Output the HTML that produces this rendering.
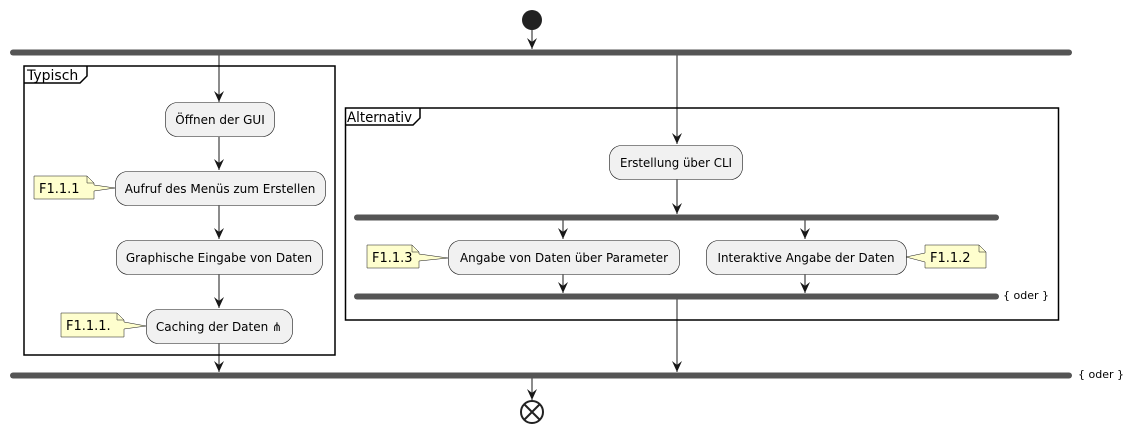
<!DOCTYPE html>
<html><head><meta charset="utf-8"><style>
html,body{margin:0;padding:0;background:#fff;}
svg{display:block;font-family:"DejaVu Sans","Liberation Sans",sans-serif;}
</style></head><body>
<svg width="1133" height="431" viewBox="0 0 1133 431" xmlns="http://www.w3.org/2000/svg">
<defs>
<marker id="a" viewBox="0 0 12 12" refX="11" refY="6" markerWidth="12" markerHeight="12" markerUnits="userSpaceOnUse" orient="auto">
<path d="M0,1 L11,6 L0,11 L4,6 Z" fill="#181818"/></marker>
</defs>
<g stroke="#181818" stroke-width="1" fill="none">
<line x1="532" y1="30" x2="532" y2="49" marker-end="url(#a)"/>
<line x1="219" y1="55" x2="219" y2="102" marker-end="url(#a)"/>
<line x1="219" y1="137" x2="219" y2="170" marker-end="url(#a)"/>
<line x1="219" y1="205" x2="219" y2="239" marker-end="url(#a)"/>
<line x1="219" y1="274" x2="219" y2="308" marker-end="url(#a)"/>
<line x1="219" y1="343" x2="219" y2="372" marker-end="url(#a)"/>
<line x1="677" y1="55" x2="677" y2="144" marker-end="url(#a)"/>
<line x1="677" y1="179" x2="677" y2="214" marker-end="url(#a)"/>
<line x1="563" y1="220" x2="563" y2="239" marker-end="url(#a)"/>
<line x1="805" y1="220" x2="805" y2="239" marker-end="url(#a)"/>
<line x1="563" y1="274" x2="563" y2="293" marker-end="url(#a)"/>
<line x1="805" y1="274" x2="805" y2="293" marker-end="url(#a)"/>
<line x1="677" y1="299" x2="677" y2="372" marker-end="url(#a)"/>
<line x1="532" y1="378" x2="532" y2="400" marker-end="url(#a)"/>
</g>
<circle cx="532" cy="20" r="10" fill="#222"/>
<rect x="10" y="49.5" width="1062" height="6" rx="3" fill="#555"/>
<rect x="10" y="372.5" width="1062" height="6" rx="3" fill="#555"/>
<rect x="354" y="214.5" width="645" height="6" rx="3" fill="#555"/>
<rect x="354" y="293.5" width="645" height="6" rx="3" fill="#555"/>
<!-- frames -->
<g stroke="#000" stroke-width="1.5" fill="none">
<rect x="24" y="66" width="311" height="289"/>
<path d="M24,83 H80 L87,76 V66"/>
<rect x="345.5" y="108" width="713" height="212"/>
<path d="M345.5,125 H413 L420,118 V108"/>
</g>
<g font-size="14" fill="#000">
<text x="27" y="80">Typisch</text>
<text x="347" y="122" textLength="65" lengthAdjust="spacingAndGlyphs">Alternativ</text>
</g>
<!-- boxes -->
<g fill="#f1f1f1" stroke="#181818" stroke-width="0.6">
<rect x="165.5" y="102.5" width="109" height="34" rx="12"/>
<rect x="115.5" y="171.5" width="210" height="34" rx="12"/>
<rect x="116.5" y="240.5" width="206" height="34" rx="12"/>
<rect x="146.5" y="309.5" width="146" height="34" rx="12"/>
<rect x="609.5" y="145.5" width="133" height="34" rx="12"/>
<rect x="448.5" y="240.5" width="231" height="34" rx="12"/>
<rect x="706.5" y="240.5" width="200" height="34" rx="12"/>
</g>
<g font-size="12" fill="#000" text-anchor="middle">
<text x="220" y="124">Öffnen der GUI</text>
<text x="220" y="193">Aufruf des Menüs zum Erstellen</text>
<text x="219" y="262">Graphische Eingabe von Daten</text>
<text x="219" y="331">Caching der Daten ⋔</text>
<text x="676" y="167" textLength="112" lengthAdjust="spacingAndGlyphs">Erstellung über CLI</text>
<text x="564" y="262" textLength="208" lengthAdjust="spacingAndGlyphs">Angabe von Daten über Parameter</text>
<text x="806" y="262" textLength="177" lengthAdjust="spacingAndGlyphs">Interaktive Angabe der Daten</text>
</g>
<!-- notes -->
<g fill="#fefece" stroke="#181818" stroke-width="0.5">
<path d="M34,176 H87 L94,183 V185 L115,188 L94,191 V199 H34 Z"/>
<path d="M61,313 H117 L124,320 V322 L146,326 L124,329 V337 H61 Z"/>
<path d="M367,245 H412 L419,252 V254 L448,258 L419,261 V268 H367 Z"/>
<path d="M925,245 H979 L986,252 V268 H925 V262 L906,257 L925,253 Z"/>
</g>
<g fill="none" stroke="#181818" stroke-width="0.5">
<path d="M87,176 V183 H94"/><path d="M117,313 V320 H124"/><path d="M412,245 V252 H419"/><path d="M979,245 V252 H986"/>
</g>
<g font-size="13" fill="#000">
<text x="39" y="193">F1.1.1</text>
<text x="66" y="330">F1.1.1.</text>
<text x="372" y="262">F1.1.3</text>
<text x="930" y="262">F1.1.2</text>
</g>
<g font-size="11" fill="#000">
<text x="1003" y="299">{ oder }</text>
<text x="1078" y="378">{ oder }</text>
</g>
<circle cx="532" cy="412" r="11" fill="#fff" stroke="#222" stroke-width="2"/>
<path d="M524.5,404.5 L539.5,419.5 M539.5,404.5 L524.5,419.5" stroke="#222" stroke-width="2"/>
</svg>
</body></html>
